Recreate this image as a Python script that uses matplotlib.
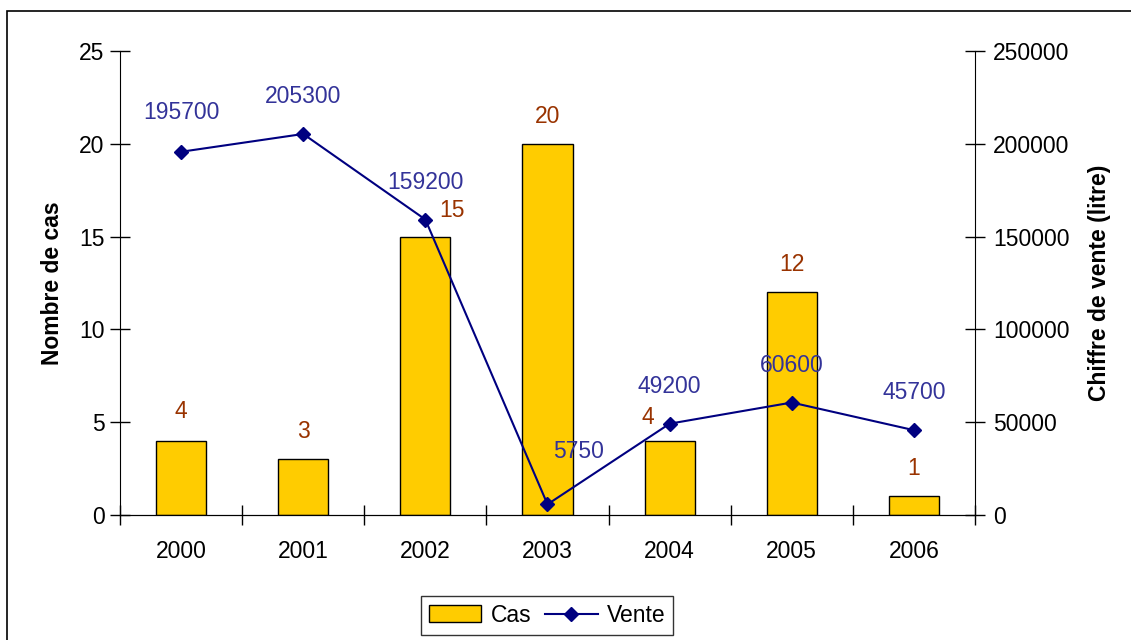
import matplotlib
matplotlib.use("Agg")
import matplotlib.pyplot as plt
from matplotlib.patches import Rectangle
import numpy as np

plt.rcParams['font.family'] = ['Liberation Sans', 'DejaVu Sans']

years = ["2000", "2001", "2002", "2003", "2004", "2005", "2006"]
cas = [4, 3, 15, 20, 4, 12, 1]
vente = [195700, 205300, 159200, 5750, 49200, 60600, 45700]

# label offsets in points (style only)
cas_offsets = [(0, 21), (0, 20), (19, 19), (0, 20), (-16, 17), (0, 20), (0, 20)]
vente_offsets = [(0, 28), (0, 27), (0, 27), (22, 38), (0, 27), (0, 27), (0, 27)]

FS = 16.5

fig = plt.figure(figsize=(11.31, 6.4), dpi=100)
fig.patches.append(Rectangle((7/1131, -0.1), 1.2, 1 - 11/640 + 0.1,
                             transform=fig.transFigure, fill=False,
                             edgecolor='black', linewidth=1.2))

ax = fig.add_axes([120/1131, 1 - 515/640, 855/1131, 464/640])
x = np.arange(len(years))
bars = ax.bar(x, cas, width=0.41, color='#FFCC00', edgecolor='black',
              linewidth=1.0, label='Cas', zorder=2)
ax.set_xlim(-0.5, len(years) - 0.5)
ax.set_ylim(0, 25)
ax.set_yticks(np.arange(0, 26, 5))
ax.set_xticks(np.arange(-0.5, len(years), 1.0))
ax.set_xticklabels([])
ax.set_xticks(x, minor=True)
ax.set_xticklabels(years, minor=True)
ax.tick_params(axis='x', which='major', direction='inout', length=14, width=1)
ax.tick_params(axis='x', which='minor', length=0, pad=18, labelsize=FS)
ax.tick_params(axis='y', direction='inout', length=14, width=1, labelsize=FS, pad=4)
ax.spines['top'].set_visible(False)
ax.spines['right'].set_visible(False)
ax.set_ylabel('Nombre de cas', fontsize=FS, fontweight='bold', labelpad=11)

for xi, v, off in zip(x, cas, cas_offsets):
    ax.annotate(str(v), (xi, v), xytext=off, textcoords='offset points',
                ha='center', va='center', color='#993300', fontsize=FS)

ax2 = ax.twinx()
line, = ax2.plot(x, vente, color='#000080', marker='D', markersize=7,
                 linewidth=1.5, label='Vente', zorder=3)
ax2.set_ylim(0, 250000)
ax2.set_yticks(np.arange(0, 250001, 50000))
ax2.tick_params(axis='y', direction='inout', length=14, width=1, labelsize=FS, pad=6)
ax2.spines['top'].set_visible(False)
ax2.spines['left'].set_visible(False)
ax2.set_ylabel('Chiffre de vente (litre)', fontsize=FS, fontweight='bold', labelpad=13)

for xi, v, off in zip(x, vente, vente_offsets):
    ax2.annotate(str(v), (xi, v), xytext=off, textcoords='offset points',
                 ha='center', va='center', color='#333399', fontsize=FS)

leg = fig.legend([bars, line], ['Cas', 'Vente'], loc='lower center',
                 bbox_to_anchor=(547/1131, -6/640), ncol=2, fontsize=FS,
                 frameon=True, fancybox=False, edgecolor='black',
                 handlelength=2.3, columnspacing=0.6, handletextpad=0.4,
                 borderpad=0.35)
leg.get_frame().set_linewidth(1.0)

fig.savefig('out.png', dpi=100)
